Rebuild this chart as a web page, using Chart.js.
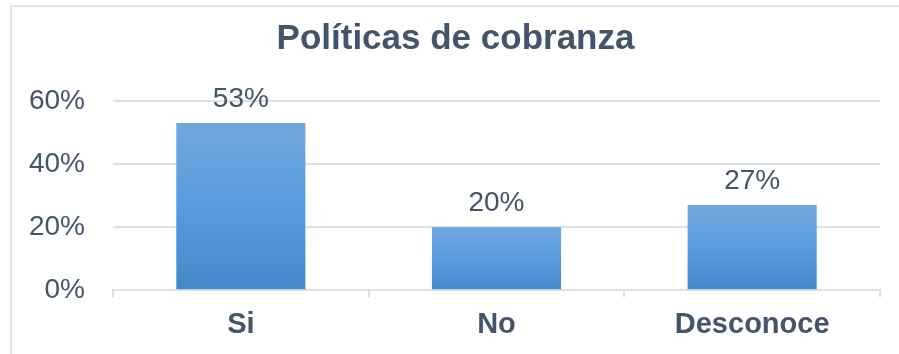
<!DOCTYPE html>
<html>
<head>
<meta charset="utf-8">
<script src="https://cdn.jsdelivr.net/npm/chart.js@4"></script>
<style>
  html, body { margin: 0; padding: 0; background: #fff; overflow: hidden; }
  .frame { position: absolute; left: 10px; top: 5px; width: 1000px; height: 1000px; border: 2px solid #e1e5ea; }
  .wrap { position: absolute; left: 0; top: 0; width: 899px; height: 354px; }
</style>
</head>
<body>
<div class="frame"></div>
<div class="wrap"><canvas id="chart" width="899" height="354"></canvas></div>
<script>
const categories = ['Si', 'No', 'Desconoce'];
const values = [53, 20, 27];
const yTicks = [0, 20, 40, 60];

const textColor = '#44546A';
const gridColor = '#dde1e7';
const fontFamily = '"Liberation Sans", Arial, sans-serif';

// per-bar vertical gradient, lighter at the top
function barFill(context) {
    const chart = context.chart;
    if (!chart.chartArea) return '#559ade';
    const y = chart.scales.y;
    const top = y.getPixelForValue(context.raw);
    const base = y.getPixelForValue(0);
    const g = chart.ctx.createLinearGradient(0, top, 0, base);
    g.addColorStop(0, '#73a7dc');
    g.addColorStop(0.5, '#579ce0');
    g.addColorStop(1, '#4588c8');
    return g;
}

const value_labels = {
    id: 'value_labels',
    afterLayout(chart) {
        // title sits a bit right of the canvas centre
        if (chart.titleBlock) chart.titleBlock.left = 31;
    },
    afterDatasetsDraw(chart) {
        const { ctx } = chart;
        const meta = chart.getDatasetMeta(0);
        ctx.save();
        ctx.font = '28px ' + fontFamily;
        ctx.fillStyle = textColor;
        ctx.textAlign = 'center';
        ctx.textBaseline = 'alphabetic';
        meta.data.forEach((bar, i) => {
            ctx.fillText(values[i] + '%', bar.x, bar.y - 16);
        });
        ctx.restore();
    },
};

const ctx = document.getElementById('chart').getContext('2d');

new Chart(ctx, {
    type: 'bar',
    data: {
        labels: categories,
        datasets: [{
            data: values,
            backgroundColor: barFill,
            borderWidth: 0,
            categoryPercentage: 1,
            barPercentage: 0.505,
        }],
    },
    options: {
        responsive: false,
        animation: false,
        layout: { padding: { left: 0, right: 19, top: 0, bottom: 2 } },
        plugins: {
            legend: { display: false },
            tooltip: { enabled: false },
            title: {
                display: true,
                text: 'Políticas de cobranza',
                color: textColor,
                font: { family: fontFamily, size: 35, weight: 'bold' },
                padding: { top: 18, bottom: 41 },
            },
        },
        scales: {
            x: {
                grid: {
                    display: true,
                    drawOnChartArea: false,
                    drawTicks: true,
                    tickLength: 7,
                    color: gridColor,
                    lineWidth: 2,
                },
                border: { display: true, color: gridColor, width: 2 },
                ticks: {
                    color: textColor,
                    padding: 10,
                    font: { family: fontFamily, size: 29, weight: 'bold' },
                },
            },
            y: {
                min: 0,
                max: 60,
                afterFit(scale) { scale.width = 113; },
                afterBuildTicks(scale) { scale.ticks = yTicks.map(v => ({ value: v })); },
                grid: { color: gridColor, lineWidth: 2, drawTicks: false },
                border: { display: false },
                ticks: {
                    color: textColor,
                    padding: 28,
                    font: { family: fontFamily, size: 28 },
                    callback: v => v + '%',
                },
            },
        },
    },
    plugins: [value_labels],
});
</script>
</body>
</html>
